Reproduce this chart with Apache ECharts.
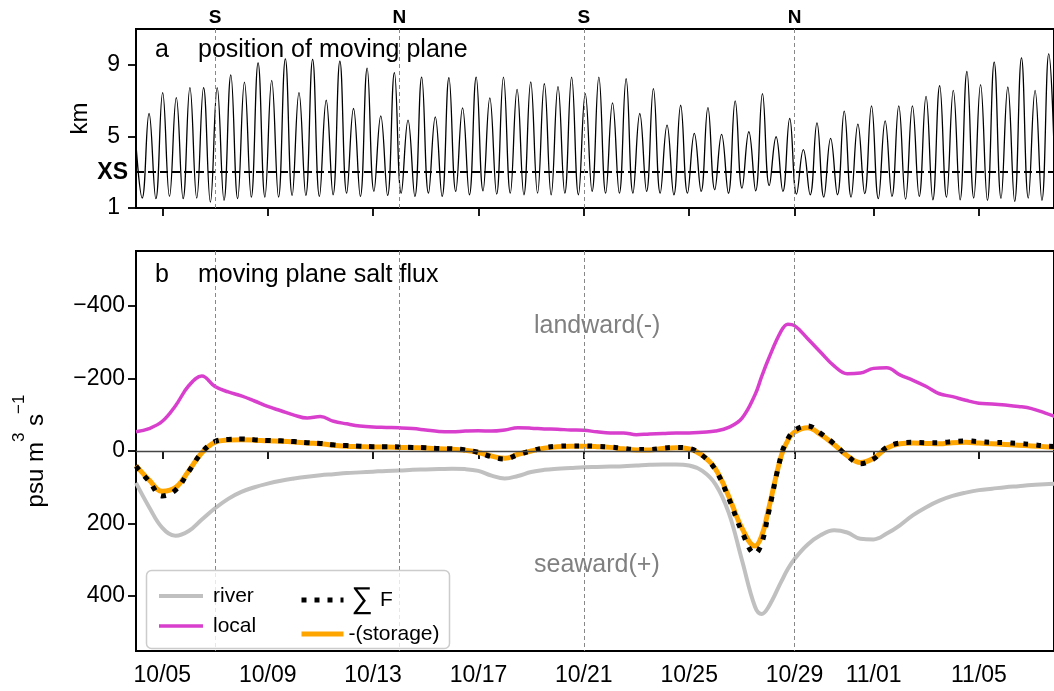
<!DOCTYPE html>
<html>
<head>
<meta charset="utf-8">
<script src="https://cdn.jsdelivr.net/npm/echarts@6/dist/echarts.min.js"></script>
<style>
html, body { margin: 0; padding: 0; background: #fff; }
#chart { width: 1054px; height: 691px; }
</style>
</head>
<body>
<div id="chart"></div>
<script>
// Time axis runs in days of October; November continues the count (11/01 = 32).
const tickDays = [5, 9, 13, 17, 21, 25, 29, 32, 36];
const tickLabels = ['10/05', '10/09', '10/13', '10/17', '10/21', '10/25', '10/29', '11/01', '11/05'];
const springNeapDays = [7, 14, 21, 29];
const springNeapLabels = ['S', 'N', 'S', 'N'];
const crossSectionKm = 3;

// Panel a: high/low water positions of the moving plane (km)
const planeDays = [
  3.977, 4.236, 4.495, 4.754, 5.012, 5.271, 5.530, 5.789, 6.047, 6.306,
  6.565, 6.824, 7.082, 7.341, 7.600, 7.859, 8.117, 8.376, 8.635, 8.894,
  9.152, 9.411, 9.670, 9.929, 10.187, 10.446, 10.705, 10.964, 11.222, 11.481,
  11.740, 11.999, 12.257, 12.516, 12.775, 13.034, 13.292, 13.551, 13.810, 14.069,
  14.327, 14.586, 14.845, 15.104, 15.362, 15.621, 15.880, 16.139, 16.397, 16.656,
  16.915, 17.174, 17.432, 17.691, 17.950, 18.209, 18.467, 18.726, 18.985, 19.244,
  19.502, 19.761, 20.020, 20.279, 20.537, 20.796, 21.055, 21.314, 21.572, 21.831,
  22.090, 22.349, 22.607, 22.866, 23.125, 23.384, 23.642, 23.901, 24.160, 24.419,
  24.677, 24.936, 25.195, 25.454, 25.712, 25.971, 26.230, 26.489, 26.747, 27.006,
  27.265, 27.524, 27.782, 28.041, 28.300, 28.559, 28.817, 29.076, 29.335, 29.594,
  29.852, 30.111, 30.370, 30.629, 30.887, 31.146, 31.405, 31.664, 31.922, 32.181,
  32.440, 32.699, 32.957, 33.216, 33.475, 33.734, 33.992, 34.251, 34.510, 34.769,
  35.027, 35.286, 35.545, 35.804, 36.062, 36.321, 36.580, 36.839, 37.097, 37.356,
  37.615, 37.874, 38.132, 38.391, 38.650, 38.909
];
const planeKm = [
  5.00, 1.56, 6.28, 1.52, 7.44, 1.65, 7.17, 1.52, 7.72, 1.56,
  7.72, 1.33, 7.72, 1.43, 8.44, 1.52, 8.03, 1.61, 9.11, 1.61,
  8.13, 1.61, 9.33, 1.70, 7.44, 1.70, 9.30, 1.65, 7.02, 1.74,
  9.20, 1.83, 6.56, 1.65, 8.81, 1.93, 6.15, 1.70, 8.56, 1.83,
  5.91, 1.65, 8.31, 1.83, 6.09, 1.65, 8.28, 1.93, 6.59, 1.74,
  8.31, 1.96, 7.15, 1.78, 8.31, 1.83, 7.63, 1.74, 8.04, 1.83,
  7.94, 1.74, 7.78, 1.83, 8.31, 1.74, 7.39, 1.93, 8.31, 1.83,
  6.87, 1.83, 8.22, 1.83, 6.28, 1.93, 7.67, 1.83, 5.63, 1.74,
  6.74, 1.83, 5.17, 1.93, 6.61, 2.02, 5.11, 1.83, 6.98, 2.11,
  5.26, 1.96, 7.39, 2.26, 4.98, 1.93, 6.00, 1.78, 4.26, 1.74,
  5.76, 1.61, 4.89, 1.74, 6.41, 1.61, 5.69, 1.80, 6.70, 1.52,
  5.87, 1.65, 6.70, 1.50, 6.70, 1.65, 7.24, 1.46, 7.83, 1.61,
  7.57, 1.46, 8.63, 1.56, 7.89, 1.43, 9.15, 1.54, 7.76, 1.37,
  9.39, 1.56, 7.57, 1.43, 9.61, 1.50
];

// Panel b: salt flux terms (psu m^3 s^-1), positive = seaward
const fluxDays = [
  4, 4.5, 5, 5.5, 6, 6.5, 7, 7.5, 8, 8.5, 9, 9.5, 10, 10.5, 11, 11.5, 12, 12.5,
  13, 13.5, 14, 14.5, 15, 15.5, 16, 16.5, 17, 17.5, 18, 18.5, 19, 19.5, 20, 20.5,
  21, 21.5, 22, 22.5, 23, 23.5, 24, 24.5, 25, 25.5, 26, 26.5, 27, 27.5, 27.75, 28,
  28.5, 28.75, 29, 29.5, 30, 30.5, 31, 31.5, 32, 32.5, 33, 33.5, 34, 34.5, 35, 35.5,
  36, 36.5, 37, 37.5, 38, 38.5, 39
];
const riverFlux = [
  88, 155, 212, 234, 221, 189, 158, 132, 113, 100, 90, 82, 76, 71, 67, 64, 61, 59,
  57, 55, 54, 52, 51, 50, 49, 50, 55, 68, 76, 69, 58, 52, 49, 47,
  45, 44, 43, 42, 40, 38, 37, 37, 40, 55, 92, 170, 300, 430, 450, 432,
  360, 325, 298, 258, 232, 219, 225, 242, 244, 228, 205, 177, 155, 137, 124, 115,
  108, 104, 100, 97, 94, 92, 90
];
const localFlux = [
  -53, -62, -82, -125, -180, -207, -178, -163, -152, -138, -123, -111, -99, -91, -95, -82, -75, -69,
  -66, -65, -64, -62, -58, -54, -53, -55, -56, -55, -58, -64, -63, -61, -60, -58,
  -57, -53, -50, -50, -45, -47, -48, -50, -50, -52, -55, -65, -90, -155, -205, -252,
  -332, -350, -346, -310, -272, -235, -213, -215, -228, -230, -210, -195, -178, -158, -150, -140,
  -132, -130, -127, -123, -117, -105, -92
];
const sumFlux = [
  42, 84, 124, 108, 57, 4, -26, -32, -33, -31, -29, -28, -26, -23, -21, -17, -15, -13,
  -12, -12, -11, -10, -9, -7, -6, -3, 4, 16, 22, 10, 0, -9, -13, -14,
  -14, -13, -11, -7, -4, -4, -8, -10, -7, 12, 52, 130, 222, 283, 255, 175,
  10, -34, -57, -69, -48, -20, 13, 35, 22, -10, -22, -24, -23, -23, -26, -28,
  -26, -24, -23, -21, -18, -14, -12
];
const storageFlux = [
  40, 80, 111, 101, 55, 5, -24, -30, -31, -30, -28, -27, -25, -22, -20, -16, -13, -12,
  -11, -11, -10, -9, -8, -6, -5, -2, 4, 14, 20, 9, 0, -8, -12, -13,
  -13, -12, -10, -6, -3, -3, -7, -9, -6, 12, 50, 125, 212, 262, 235, 165,
  12, -30, -52, -64, -45, -18, 13, 32, 20, -8, -20, -22, -21, -20, -23, -24,
  -22, -20, -18, -16, -14, -12, -10
];
const fluxTicks = [-400, -200, 0, 200, 400];

const FONT = '"Liberation Sans", Arial, Helvetica, sans-serif';
const pairs = (xs, ys) => xs.map((x, i) => [x, ys[i]]);
const minusSign = v => (v < 0 ? '\u2212' + (-v) : String(v));

const RIVER_COLOR = '#c0c0c0';
const LOCAL_COLOR = '#d83fcc';
const STORAGE_COLOR = '#ffa500';

const dayAxis = (gridIndex, withLabels) => ({
  type: 'value', gridIndex, min: 4, max: 38.85,
  axisLine: { show: false },
  splitLine: { show: false },
  axisTick: { customValues: tickDays, length: 8, lineStyle: { color: '#000', width: 1.8 } },
  axisLabel: withLabels ? {
    customValues: tickDays,
    formatter: v => tickLabels[tickDays.indexOf(v)],
    fontSize: 23, color: '#000', margin: 13, fontFamily: FONT
  } : { show: false }
});

const dashedDay = (d, label) => ({
  xAxis: d,
  lineStyle: { type: [4, 3], color: '#888', width: 1 },
  label: label ? { show: true, position: 'end', formatter: label, fontWeight: 'bold',
                   fontSize: 19, color: '#000', distance: 2, fontFamily: FONT } : { show: false }
});

// legend entries: line only, no marker
const legendItem = (name, lineStyle) => ({ name, itemStyle: { opacity: 0 }, lineStyle });

const chart = echarts.init(document.getElementById('chart'));
chart.setOption({
  animation: false,
  textStyle: { fontFamily: FONT },
  grid: [
    { left: 136, right: -2, top: 29, height: 179, show: true, borderColor: '#000', borderWidth: 2 },
    { left: 136, right: -2, top: 251, height: 400, show: true, borderColor: '#000', borderWidth: 2 }
  ],
  xAxis: [dayAxis(0, false), dayAxis(1, true)],
  yAxis: [
    {
      type: 'value', gridIndex: 0, min: 1, max: 11,
      axisLine: { show: false }, splitLine: { show: false },
      axisTick: { customValues: [1, 5, 9], length: 8, lineStyle: { color: '#000', width: 1.8 } },
      axisLabel: { customValues: [1, 5, 9], fontSize: 23, color: '#000', margin: 16 },
      name: 'km', nameLocation: 'middle', nameGap: 44,
      nameTextStyle: { fontSize: 24, color: '#000' }
    },
    {
      type: 'value', gridIndex: 1, min: -552, max: 552, inverse: true,
      axisLine: { show: false }, splitLine: { show: false },
      axisTick: { customValues: fluxTicks, length: 8, lineStyle: { color: '#000', width: 1.8 } },
      axisLabel: { customValues: fluxTicks, formatter: minusSign, fontSize: 23, color: '#000', margin: 11 },
      name: '{b|psu m}{t|3}{b| s}{t|\u22121}', nameLocation: 'middle', nameGap: 88,
      nameTextStyle: {
        color: '#000',
        rich: {
          b: { fontSize: 24, verticalAlign: 'bottom', fontFamily: FONT, color: '#000' },
          t: { fontSize: 17, verticalAlign: 'top', padding: [0, 0, 20, 0], fontFamily: FONT, color: '#000' }
        }
      }
    }
  ],
  legend: [
    {
      data: [
        legendItem('river', { width: 4, color: RIVER_COLOR }),
        legendItem('local', { width: 3.5, color: LOCAL_COLOR })
      ],
      orient: 'vertical', left: 152, top: 580, z: 20,
      itemWidth: 44, itemHeight: 14, itemGap: 8, selectedMode: false,
      textStyle: { fontSize: 21, color: '#000', lineHeight: 22, padding: [0, 0, 0, 5] }
    },
    {
      data: [
        legendItem('\u2211 F', { width: 5, color: '#000', type: [5, 8], cap: 'butt' }),
        legendItem('-(storage)', { width: 5, color: STORAGE_COLOR })
      ],
      orient: 'vertical', left: 294, top: 580, z: 20,
      itemWidth: 42, itemHeight: 14, itemGap: 8, selectedMode: false,
      formatter: n => (n === '\u2211 F' ? '{big|\u2211}F' : n),
      textStyle: { fontSize: 21, color: '#000', lineHeight: 22, padding: [0, 0, 0, 0],
                   rich: { big: { fontSize: 30, color: '#000', padding: [0, 7, 0, 3] } } }
    }
  ],
  graphic: [
    { type: 'rect', z: 10, silent: true,
      shape: { x: 146.5, y: 570.5, width: 303, height: 78, r: 5 },
      style: { fill: 'rgba(255,255,255,0.8)', stroke: '#cccccc', lineWidth: 1.5 } },
    { type: 'text', z: 20, x: 155, y: 50, style: { text: 'a', font: '25px ' + FONT, fill: '#000', verticalAlign: 'middle' } },
    { type: 'text', z: 20, x: 198, y: 50, style: { text: 'position of moving plane', font: '25px ' + FONT, fill: '#000', verticalAlign: 'middle' } },
    { type: 'text', z: 20, x: 155, y: 275, style: { text: 'b', font: '25px ' + FONT, fill: '#000', verticalAlign: 'middle' } },
    { type: 'text', z: 20, x: 198, y: 275, style: { text: 'moving plane salt flux', font: '25px ' + FONT, fill: '#000', verticalAlign: 'middle' } },
    { type: 'text', z: 20, x: 534, y: 326, style: { text: 'landward(-)', font: '25px ' + FONT, fill: '#808080', verticalAlign: 'middle' } },
    { type: 'text', z: 20, x: 534, y: 565, style: { text: 'seaward(+)', font: '25px ' + FONT, fill: '#808080', verticalAlign: 'middle' } }
  ],
  series: [
    {
      type: 'line', xAxisIndex: 0, yAxisIndex: 0, name: 'position',
      data: pairs(planeDays, planeKm), smooth: 0.45, symbol: 'none',
      lineStyle: { color: '#000', width: 1.3 }, z: 2,
      markLine: {
        silent: true, symbol: 'none',
        data: [
          { yAxis: crossSectionKm, lineStyle: { type: [8, 4], color: '#000', width: 2 },
            label: { show: true, position: 'start', formatter: 'XS', fontWeight: 'bold',
                     fontSize: 23, color: '#000', distance: 8, fontFamily: FONT } },
          ...springNeapDays.map((d, i) => dashedDay(d, springNeapLabels[i]))
        ]
      }
    },
    {
      type: 'line', xAxisIndex: 1, yAxisIndex: 1, name: 'river',
      data: pairs(fluxDays, riverFlux), smooth: 0.4, symbol: 'none',
      lineStyle: { color: RIVER_COLOR, width: 4 }, itemStyle: { color: RIVER_COLOR }, z: 2,
      markLine: {
        silent: true, symbol: 'none',
        data: [
          { yAxis: 0, lineStyle: { type: 'solid', color: '#444', width: 1.3 }, label: { show: false } },
          ...springNeapDays.map(d => dashedDay(d, null))
        ]
      }
    },
    {
      type: 'line', xAxisIndex: 1, yAxisIndex: 1, name: 'local',
      data: pairs(fluxDays, localFlux), smooth: 0.4, symbol: 'none',
      lineStyle: { color: LOCAL_COLOR, width: 3.5 }, itemStyle: { color: LOCAL_COLOR }, z: 2
    },
    {
      type: 'line', xAxisIndex: 1, yAxisIndex: 1, name: '\u2211 F',
      data: pairs(fluxDays, sumFlux), smooth: 0.4, symbol: 'none',
      lineStyle: { color: '#000', width: 5, type: [5, 8], cap: 'butt' }, itemStyle: { color: '#000' }, z: 4
    },
    {
      type: 'line', xAxisIndex: 1, yAxisIndex: 1, name: '-(storage)',
      data: pairs(fluxDays, storageFlux), smooth: 0.4, symbol: 'none',
      lineStyle: { color: STORAGE_COLOR, width: 5 }, itemStyle: { color: STORAGE_COLOR }, z: 3
    }
  ]
});
</script>
</body>
</html>
